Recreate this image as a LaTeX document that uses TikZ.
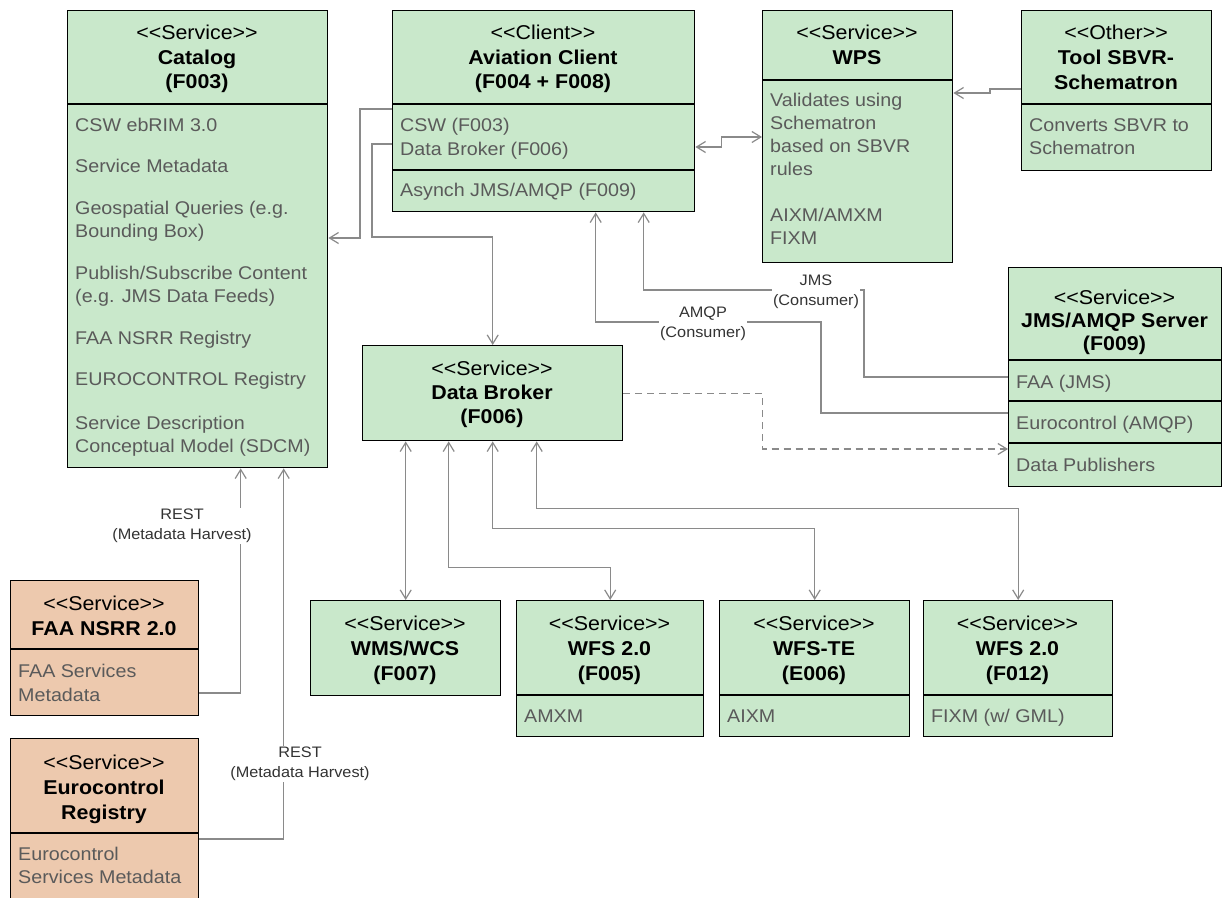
\documentclass[tikz,border=0pt]{standalone}
\usepackage{fontspec}
\setmainfont{Liberation Sans}[FakeStretch=1.07]
\usetikzlibrary{arrows.meta,calc}
\definecolor{boxgreen}{HTML}{C9E8CB}
\definecolor{boxorange}{HTML}{EDC9AE}
\definecolor{linegray}{HTML}{8A8A8A}
\definecolor{bodygray}{HTML}{5A5A5A}
\newcommand{\ster}[1]{<{}<#1>{}>}
\tikzset{
  umlbox/.style={draw=black, line width=1.4pt, fill=boxgreen, inner sep=0pt, anchor=north west},
  orangebox/.style={umlbox, fill=boxorange},
  divider/.style={draw=black, line width=1.4pt},
  stereo/.style={font=\fontsize{20}{24}\selectfont, inner sep=0pt, anchor=base},
  titletext/.style={font=\fontsize{20}{24}\selectfont\bfseries, inner sep=0pt, anchor=base},
  body/.style={font=\fontsize{18.4}{23}\selectfont, text=bodygray, inner sep=0pt, anchor=base west},
  tip/.tip={Straight Barb[length=9pt,width=11pt]},
  conn/.style={draw=linegray, line width=1.2pt, -tip},
  biconn/.style={draw=linegray, line width=1.2pt, tip-tip},
  lbl/.style={font=\fontsize{15.2}{20}\selectfont, fill=white, align=center, inner sep=1.5pt, text=black!80},
}
\begin{document}
\begin{tikzpicture}[x=1pt,y=-1pt]
\useasboundingbox (0,0) rectangle (1223,897);
\fill[white] (0,0) rectangle (1223,897);
\clip (0,0) rectangle (1223,897);

% ---------- boxes ----------
\node[umlbox, minimum width=260pt, minimum height=457pt] (cat) at (67,10) {};
\node[umlbox, minimum width=302pt, minimum height=201pt] (av) at (392,10) {};
\node[umlbox, minimum width=190pt, minimum height=252pt] (wps) at (762,10) {};
\node[umlbox, minimum width=190pt, minimum height=160pt] (tool) at (1021,10) {};
\node[umlbox, minimum width=213pt, minimum height=219pt] (jms) at (1008,267) {};
\node[umlbox, minimum width=260pt, minimum height=95pt] (db) at (362,345) {};
\node[orangebox, minimum width=188pt, minimum height=135pt] (faa) at (10,580) {};
\node[orangebox, minimum width=188pt, minimum height=175pt] (euro) at (10,738) {};
\node[umlbox, minimum width=190pt, minimum height=95pt] (wms) at (310,600) {};
\node[umlbox, minimum width=187pt, minimum height=136pt] (wfsa) at (516,600) {};
\node[umlbox, minimum width=190pt, minimum height=136pt] (wfste) at (719,600) {};
\node[umlbox, minimum width=189pt, minimum height=136pt] (wfsb) at (923,600) {};

% ---------- dividers ----------
\draw[divider] (67,104) -- (327,104);
\draw[divider] (392,104) -- (694,104);
\draw[divider] (392,170) -- (694,170);
\draw[divider] (762,80) -- (952,80);
\draw[divider] (1021,104) -- (1211,104);
\draw[divider] (1008,360) -- (1221,360);
\draw[divider] (1008,401) -- (1221,401);
\draw[divider] (1008,443) -- (1221,443);
\draw[divider] (10,649) -- (198,649);
\draw[divider] (10,833) -- (198,833);
\draw[divider] (516,695) -- (703,695);
\draw[divider] (719,695) -- (909,695);
\draw[divider] (923,695) -- (1112,695);

% ---------- header texts ----------
\node[stereo] (cat-s) at (197,39) {\ster{Service}};
\node[titletext] (cat-n) at (197,64) {Catalog};
\node[titletext] (cat-c) at (197,88) {(F003)};

\node[stereo] (av-s) at (543,39) {\ster{Client}};
\node[titletext] (av-n) at (543,64) {Aviation Client};
\node[titletext] (av-c) at (543,88) {(F004 + F008)};

\node[stereo] (wps-s) at (857,39) {\ster{Service}};
\node[titletext] (wps-n) at (857,64) {WPS};

\node[stereo] (tool-s) at (1116,39) {\ster{Other}};
\node[titletext] (tool-n) at (1116,64) {Tool SBVR-};
\node[titletext] (tool-c) at (1116,89) {Schematron};

\node[stereo] (jms-s) at (1114.5,304) {\ster{Service}};
\node[titletext] (jms-n) at (1114.5,327) {JMS/AMQP Server};
\node[titletext] (jms-c) at (1114.5,350) {(F009)};

\node[stereo] (db-s) at (492,375) {\ster{Service}};
\node[titletext] (db-n) at (492,399) {Data Broker};
\node[titletext] (db-c) at (492,423) {(F006)};

\node[stereo] (faa-s) at (104,610) {\ster{Service}};
\node[titletext] (faa-n) at (104,635) {FAA NSRR 2.0};

\node[stereo] (euro-s) at (104,769) {\ster{Service}};
\node[titletext] (euro-n) at (104,794) {Eurocontrol};
\node[titletext] (euro-c) at (104,819) {Registry};

\node[stereo] (wms-s) at (405,630) {\ster{Service}};
\node[titletext] (wms-n) at (405,655) {WMS/WCS};
\node[titletext] (wms-c) at (405,680) {(F007)};

\node[stereo] (wfsa-s) at (609.5,630) {\ster{Service}};
\node[titletext] (wfsa-n) at (609.5,655) {WFS 2.0};
\node[titletext] (wfsa-c) at (609.5,680) {(F005)};

\node[stereo] (wfste-s) at (814,630) {\ster{Service}};
\node[titletext] (wfste-n) at (814,655) {WFS-TE};
\node[titletext] (wfste-c) at (814,680) {(E006)};

\node[stereo] (wfsb-s) at (1017.5,630) {\ster{Service}};
\node[titletext] (wfsb-n) at (1017.5,655) {WFS 2.0};
\node[titletext] (wfsb-c) at (1017.5,680) {(F012)};

% ---------- body texts ----------
\foreach \t/\y [count=\i] in {{CSW ebRIM 3.0}/131, {Service Metadata}/172, {Geospatial Queries (e.g.}/214, {Bounding Box)}/237, {Publish/Subscribe Content}/279, {(e.g. JMS Data Feeds)}/302, {FAA NSRR Registry}/344, {EUROCONTROL Registry}/385, {Service Description}/429, {Conceptual Model (SDCM)}/452}
  \node[body] (cat-b\i) at (75,\y) {\t};

\foreach \t/\y [count=\i] in {{CSW (F003)}/131, {Data Broker (F006)}/155, {Asynch JMS/AMQP (F009)}/196}
  \node[body] (av-b\i) at (400,\y) {\t};

\foreach \t/\y [count=\i] in {{Validates using}/106, {Schematron}/129, {based on SBVR}/152, {rules}/175, {AIXM/AMXM}/221, {FIXM}/244}
  \node[body] (wps-b\i) at (770,\y) {\t};

\foreach \t/\y [count=\i] in {{Converts SBVR to}/131, {Schematron}/154}
  \node[body] (tool-b\i) at (1029,\y) {\t};

\foreach \t/\y [count=\i] in {{FAA (JMS)}/388, {Eurocontrol (AMQP)}/429, {Data Publishers}/471}
  \node[body] (jms-b\i) at (1016,\y) {\t};

\foreach \t/\y [count=\i] in {{FAA Services}/677, {Metadata}/701}
  \node[body] (faa-b\i) at (18,\y) {\t};

\foreach \t/\y [count=\i] in {{Eurocontrol}/860, {Services Metadata}/883}
  \node[body] (euro-b\i) at (18,\y) {\t};

\node[body] (wfsa-b) at (524,722) {AMXM};
\node[body] (wfste-b) at (727,722) {AIXM};
\node[body] (wfsb-b) at (931,722) {FIXM (w/ GML)};

% ---------- connectors ----------
\draw[conn] ([yshift=-99pt]av.north west) -- ++(-32,0) |- ([yshift=-228pt]cat.north east);
\draw[conn] ([yshift=-134pt]av.north west) -- ++(-20,0) -- ++(0,93) -| (db.north);
\draw[biconn] ([yshift=-137pt]av.north east) -- ++(26,0) -- ++(0,-10) -- ([yshift=-127pt]wps.north west);
\draw[conn] ([yshift=-79pt]tool.north west) -- ++(-31,0) -- ++(0,4) -- ([yshift=-83pt]wps.north east);
\draw[conn] ([yshift=-110pt]jms.north west) -- ++(-144,0) -- ++(0,-87) -| ([xshift=100pt]av.south);
\draw[conn] ([yshift=-146pt]jms.north west) -- ++(-187,0) -- ++(0,-91) -| ([xshift=52pt]av.south);
\draw[conn, dash pattern=on 7pt off 5pt] (db.east) -- ++(139,0) |- ([yshift=-182pt]jms.north west);
\draw[biconn] ([xshift=-87pt]db.south) -- (wms.north);
\draw[biconn] ([xshift=-44pt]db.south) -- ++(0,126) -| (wfsa.north);
\draw[biconn] (db.south) -- ++(0,87) -| (wfste.north);
\draw[biconn] ([xshift=44pt]db.south) -- ++(0,67) -| (wfsb.north);
\draw[conn] ([yshift=-113pt]faa.north east) -| ([xshift=43pt]cat.south);
\draw[conn] ([yshift=-101pt]euro.north east) -| ([xshift=86pt]cat.south);

% ---------- connector labels ----------
\node[lbl] (l-jms) at (816,292) {JMS\\(Consumer)};
\node[lbl] (l-amqp) at (703,324) {AMQP\\(Consumer)};
\node[lbl] (l-rest1) at (182,526) {REST\\(Metadata Harvest)};
\node[lbl] (l-rest2) at (300,764) {REST\\(Metadata Harvest)};
\end{tikzpicture}
\end{document}
